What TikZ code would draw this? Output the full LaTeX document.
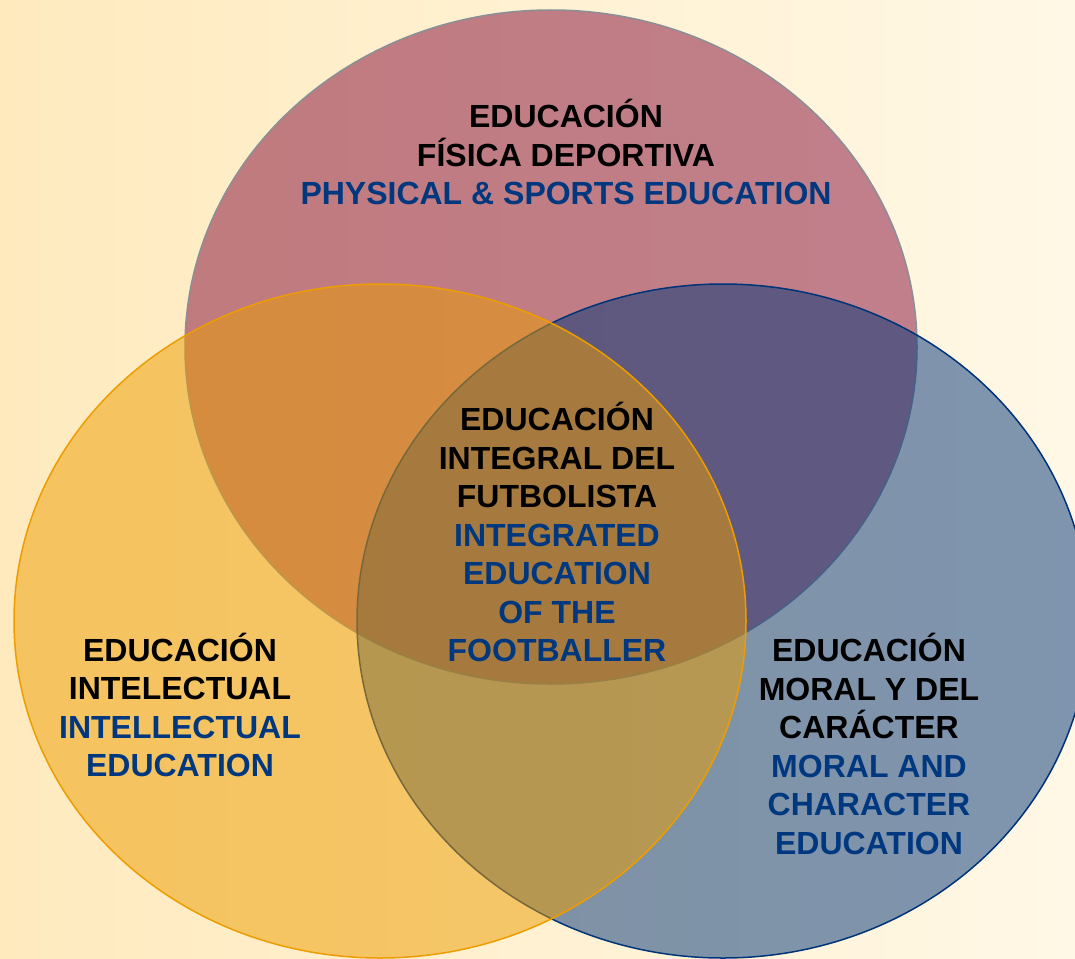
\documentclass[tikz,border=0pt]{standalone}
\usepackage{fontspec}
\setmainfont{Liberation Sans}
\usetikzlibrary{shapes.geometric}
\definecolor{physred}{RGB}{131,10,56}
\definecolor{moralblue}{RGB}{0,52,121}
\definecolor{intelorange}{RGB}{237,157,0}
\definecolor{textblue}{RGB}{0,56,128}
\definecolor{bgleft}{RGB}{255,234,190}
\definecolor{bgright}{RGB}{255,248,230}
\definecolor{rimgray}{RGB}{138,143,150}
\newcommand{\english}[1]{\textcolor{textblue}{#1}}

\begin{document}
\begin{tikzpicture}[x=1pt,y=-1pt,
    venn/.style={ellipse, minimum width=732pt, minimum height=674pt,
        inner sep=0pt, fill opacity=0.5, line width=1.5pt},
    lbl/.style={align=center, inner sep=0pt,
        font=\fontsize{32}{38.5}\selectfont\bfseries}]
    % Page and background
    \useasboundingbox (0,0) rectangle (1075,958);
    \clip (0,0) rectangle (1075,958);
    \shade[left color=bgleft, right color=bgright] (0,0) rectangle (1075,958);

    % Circles
    \node[venn, fill=physred, draw=rimgray] (fisica) at (551,347) {};
    \node[venn, fill=moralblue, draw=moralblue] (moral) at (723,621) {};
    \node[venn, fill=intelorange, draw=intelorange] (intelectual) at (380,621) {};

    % Labels
    \node[lbl] (tfisica) at (566,152) {EDUCACIÓN\\FÍSICA DEPORTIVA\\
        \english{PHYSICAL \& SPORTS EDUCATION}};
    \node[lbl] (tintegral) at (557,532) {EDUCACIÓN\\INTEGRAL DEL\\FUTBOLISTA\\
        \english{INTEGRATED}\\\english{EDUCATION}\\\english{OF THE}\\\english{FOOTBALLER}};
    \node[lbl] (tintelectual) at (180,705) {EDUCACIÓN\\INTELECTUAL\\
        \english{INTELLECTUAL}\\\english{EDUCATION}};
    \node[lbl] (tmoral) at (869,744) {EDUCACIÓN\\MORAL Y DEL\\CARÁCTER\\
        \english{MORAL AND}\\\english{CHARACTER}\\\english{EDUCATION}};
\end{tikzpicture}
\end{document}
